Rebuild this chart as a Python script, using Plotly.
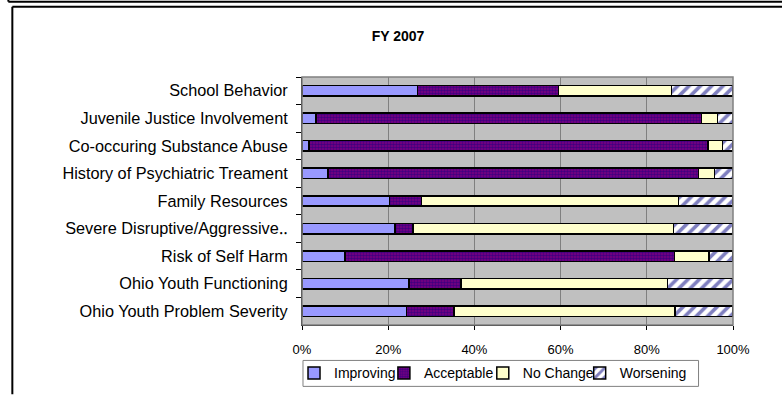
import plotly.graph_objects as go

# categories listed top to bottom, as in the chart
categories = [
    "School Behavior",
    "Juvenile Justice Involvement",
    "Co-occuring Substance Abuse",
    "History of Psychiatric Treament",
    "Family Resources",
    "Severe Disruptive/Aggressive\u2025",
    "Risk of Self Harm",
    "Ohio Youth Functioning",
    "Ohio Youth Problem Severity",
]

improving = [26.8, 3.2, 1.6, 6.0, 20.3, 21.6, 10.0, 24.8, 24.3]
acceptable = [32.7, 89.5, 92.6, 86.0, 7.4, 4.2, 76.4, 12.1, 11.0]
no_change = [26.2, 3.7, 3.4, 3.7, 59.7, 60.4, 8.0, 47.9, 51.2]
worsening = [14.3, 3.6, 2.4, 4.3, 12.6, 13.8, 5.6, 15.2, 13.5]

x_ticks = [0, 20, 40, 60, 80, 100]
x_tick_labels = ["0%", "20%", "40%", "60%", "80%", "100%"]

FONT = "Liberation Sans, Arial, sans-serif"

series = [
    ("Improving", improving, dict(color="#9999FF")),
    ("Acceptable", acceptable, dict(color="#800080",
                                    pattern=dict(shape=".", fgcolor="#000080", bgcolor="#800080",
                                                 size=3, solidity=0.55))),
    ("No Change", no_change, dict(color="#FFFFCC")),
    ("Worsening", worsening, dict(color="#FFFFFF",
                                  pattern=dict(shape="/", fgcolor="#000080", bgcolor="#FFFFFF",
                                               size=8, solidity=0.45))),
]

# pixel -> paper helpers
L, R, T, B = 302, 733.5, 77, 325.5
def px(x):
    return (x - L) / (R - L)
def py(y):
    return (B - y) / (B - T)

# one small legend per series so the entries sit where Excel put them
legend_left = [294, 384, 483, 580]
legend_names = ["legend", "legend2", "legend3", "legend4"]

fig = go.Figure()
for (name, vals, marker), lg in zip(series, legend_names):
    marker["line"] = dict(color="black", width=1.5)
    fig.add_trace(go.Bar(
        y=categories, x=vals, name=name, orientation="h",
        marker=marker, hoverinfo="skip", legend=lg,
    ))

frame = dict(color="black", width=2)
shapes = [
    # plot area border
    dict(type="rect", xref="paper", yref="paper", x0=0, x1=1, y0=0, y1=1,
         line=dict(color="#808080", width=1.5), layer="above"),
    # legend box
    dict(type="rect", xref="paper", yref="paper", x0=px(303), x1=px(699), y0=py(387), y1=py(361),
         line=dict(color="#808080", width=1), fillcolor="white"),
    # outer frame lines
    dict(type="line", xref="paper", yref="paper", x0=px(8), x1=px(790), y0=py(1.5), y1=py(1.5), line=frame),
    dict(type="line", xref="paper", yref="paper", x0=px(8), x1=px(8), y0=py(-2), y1=py(1.5), line=frame),
    dict(type="line", xref="paper", yref="paper", x0=px(12), x1=px(790), y0=py(6.5), y1=py(6.5), line=frame),
    dict(type="line", xref="paper", yref="paper", x0=px(12), x1=px(12), y0=py(6.5), y1=py(395), line=frame),
]

legends = {}
for lg, left in zip(legend_names, legend_left):
    legends[lg] = dict(orientation="h", x=px(left), xanchor="left", y=py(374), yanchor="middle",
                       bgcolor="rgba(0,0,0,0)", borderwidth=0,
                       font=dict(size=14, family=FONT), itemwidth=30)

fig.update_layout(
    width=782, height=404,
    margin=dict(l=302, r=48.5, t=77, b=78.5, autoexpand=False),
    paper_bgcolor="white",
    plot_bgcolor="#C0C0C0",
    barmode="stack",
    bargap=0.62,
    font=dict(family=FONT, color="black"),
    title=dict(text="<b>FY 2007</b>", xref="container", x=398 / 782, xanchor="center",
               yref="container", y=1 - 36 / 404, yanchor="middle",
               font=dict(size=14, family=FONT)),
    xaxis=dict(range=[0, 100], tickvals=x_ticks, ticktext=x_tick_labels,
               showgrid=True, gridcolor="#808080", gridwidth=1,
               ticks="outside", ticklen=4, tickcolor="black",
               showline=True, linecolor="black", linewidth=1,
               tickfont=dict(size=13), ticklabelstandoff=8, zeroline=False,
               automargin=False),
    yaxis=dict(categoryorder="array", categoryarray=categories, autorange="reversed",
               ticks="outside", tickson="boundaries", ticklen=5, tickcolor="black",
               showline=True, linecolor="black", linewidth=1,
               tickfont=dict(size=16.3), ticklabelstandoff=10, showgrid=False,
               automargin=False),
    shapes=shapes,
    showlegend=True,
    **legends,
)

# drop the page's default body margin so the figure sits at the window origin
fig.write_html("out.html", config={"displayModeBar": False},
               post_script="document.body.style.margin='0';")
